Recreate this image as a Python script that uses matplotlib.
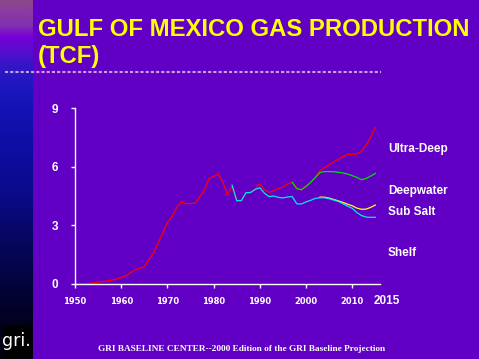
import matplotlib
matplotlib.use("Agg")
import matplotlib.pyplot as plt
import numpy as np
from matplotlib.colors import LinearSegmentedColormap
from matplotlib.lines import Line2D
from matplotlib.patches import Rectangle

# ---------------------------------------------------------------- data (TCF)
years_total = list(range(1950, 2016))
ultra_deep = [0.0, 0.0, 0.0, 0.02, 0.06, 0.09, 0.12, 0.16, 0.2, 0.26,
              0.34, 0.42, 0.58, 0.72, 0.8, 0.88, 1.25, 1.6, 2.1, 2.6,
              3.15, 3.45, 3.9, 4.2, 4.1, 4.12, 4.13, 4.45, 4.8, 5.4,
              5.5, 5.62, 5.2, 4.55, 5.0, 4.28, 4.28, 4.67, 4.68, 4.84,
              5.12, 4.81, 4.69, 4.77, 4.89, 4.95, 5.12, 5.2, 4.88, 4.82,
              5.0, 5.2, 5.45, 5.8, 5.95, 6.1, 6.25, 6.38, 6.52, 6.63,
              6.63, 6.66, 6.8, 7.1, 7.5, 8.0]

years_deep = list(range(1997, 2016))
deepwater = [5.2, 4.88, 4.82, 5.0, 5.2, 5.45, 5.7, 5.75, 5.75, 5.74,
             5.71, 5.68, 5.62, 5.54, 5.45, 5.33, 5.4, 5.52, 5.66]

years_shelf = list(range(1984, 2016))
shelf = [5.05, 4.26, 4.26, 4.67, 4.68, 4.84, 4.92, 4.64, 4.47, 4.5,
         4.43, 4.4, 4.45, 4.47, 4.1, 4.09, 4.2, 4.28, 4.38, 4.41,
         4.41, 4.36, 4.29, 4.22, 4.1, 3.98, 3.87, 3.65, 3.5, 3.42,
         3.41, 3.41]

years_salt = list(range(2003, 2016))
sub_salt = [4.44, 4.44, 4.39, 4.32, 4.25, 4.17, 4.08, 4.0, 3.88, 3.82,
            3.83, 3.92, 4.04]

x_ticks = [1950, 1960, 1970, 1980, 1990, 2000, 2010]
y_ticks = [0, 3, 6, 9]
labels = ["Ultra-Deep", "Deepwater", "Sub Salt", "Shelf"]
label_y = [6.9, 4.76, 3.68, 1.59]

# ---------------------------------------------------------------- style
BG = "#6100c4"
YELLOW = "#ffff00"
WHITE = "#ffffff"
RED = "#ff0000"
GREEN = "#00e000"
CYAN = "#00e8f0"
GOLD = "#ffff20"

fig = plt.figure(figsize=(4.79, 3.59), dpi=100, facecolor=BG)

# left gradient strip
strip = fig.add_axes([0, 0, 33 / 479, 1])
cmap = LinearSegmentedColormap.from_list("strip", [
    (0.00, "#8a4a8a"), (0.03, "#8a3ca0"), (0.07, "#8030b0"),
    (0.10, "#7800d8"), (0.14, "#5a0cd0"), (0.17, "#3e14c8"),
    (0.20, "#2a18c4"), (0.28, "#1414b8"), (0.40, "#0e0ea4"),
    (0.55, "#0a0a88"), (0.68, "#06065c"), (0.80, "#03033a"),
    (0.90, "#01011e"), (1.00, "#000010")])
strip.imshow(np.linspace(0, 1, 256)[:, None], aspect="auto", cmap=cmap,
             extent=(0, 1, 1, 0))
strip.set_axis_off()

# logo
fig.patches.append(Rectangle((3 / 479, 2 / 359), 27 / 479, 31 / 359,
                             transform=fig.transFigure, color="#000000"))
fig.text(16 / 479, 18 / 359, "gri.", color=WHITE, fontsize=12.5,
         family="DejaVu Sans Condensed", ha="center", va="center")

# title
fig.text(38 / 479, 1 - 36 / 359, "GULF OF MEXICO GAS PRODUCTION",
         color=YELLOW, fontsize=17.2, fontweight="bold",
         family="Liberation Sans", va="baseline")
fig.text(38 / 479, 1 - 63 / 359, "(TCF)", color=YELLOW, fontsize=17.2,
         fontweight="bold", family="Liberation Sans", va="baseline")

# dotted rule
fig.lines.append(Line2D([5 / 479, 381 / 479], [1 - 71.5 / 359] * 2,
                        transform=fig.transFigure, color="#c8a0e8", lw=1.5,
                        linestyle=(0, (1.5, 1.0)), dash_capstyle="butt"))

# chart
ax = fig.add_axes([75 / 479, 75 / 359, 305 / 479, 176 / 359])
ax.set_facecolor(BG)
ax.plot(years_total, ultra_deep, color=RED, lw=0.9, zorder=2)
ax.plot(years_deep, deepwater, color=GREEN, lw=0.9, zorder=3)
ax.plot(years_shelf, shelf, color=CYAN, lw=0.9, zorder=4)
ax.plot(years_salt, sub_salt, color=GOLD, lw=0.9, zorder=3.5)

ax.set_xlim(1950, 2016)
ax.set_ylim(0, 9)
for s in ("top", "right"):
    ax.spines[s].set_visible(False)
for s in ("left", "bottom"):
    ax.spines[s].set_color(WHITE)
    ax.spines[s].set_linewidth(1.0)
ax.set_xticks(x_ticks)
ax.set_xticklabels([str(v) for v in x_ticks])
ax.set_yticks(y_ticks)
ax.set_yticklabels([str(v) for v in y_ticks])
ax.tick_params(axis="x", colors=WHITE, length=3, width=1, pad=6,
               labelsize=6, labelcolor=WHITE)
ax.tick_params(axis="y", colors=WHITE, length=3, width=1, pad=9,
               labelsize=8.5, labelcolor=WHITE)
for t in ax.get_xticklabels():
    t.set_fontweight("bold")
    t.set_family("DejaVu Sans")
for t in ax.get_yticklabels():
    t.set_fontweight("bold")
    t.set_family("Liberation Sans")

ax.text(2017.5, -0.85, "2015", color=WHITE, fontsize=8.5, fontweight="bold",
        family="Liberation Sans", ha="center", va="center", clip_on=False)

for lab, yv in zip(labels, label_y):
    ax.text(2017.7, yv, lab, color=WHITE, fontsize=8.5, fontweight="bold",
            family="Liberation Sans", ha="left", va="center", clip_on=False)

fig.text(242 / 479, 1 - 349 / 359,
         "GRI BASELINE CENTER--2000 Edition of the GRI Baseline Projection",
         color=WHITE, fontsize=6.7, fontweight="bold",
         family="Liberation Serif", ha="center", va="center")

fig.savefig("out.png", dpi=100, facecolor=BG)
